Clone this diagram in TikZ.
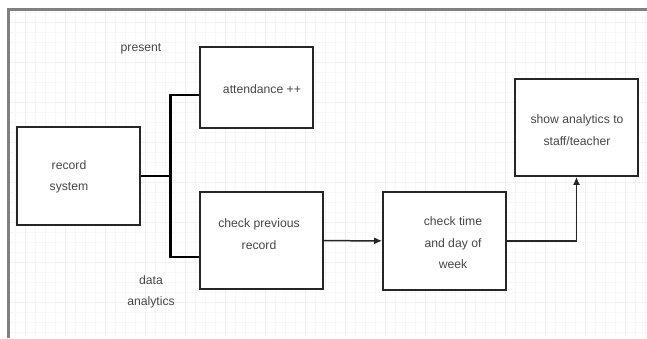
\documentclass[tikz,border=0pt]{standalone}
\usepackage{fontspec}
\setmainfont{Liberation Sans}
\usetikzlibrary{arrows.meta}
\begin{document}
\begin{tikzpicture}[x=1pt,y=-1pt,
  box/.style={draw=black!85,line width=1.7pt,fill=white,inner sep=0pt},
  txt/.style={text=black!72,font=\fontsize{12.2}{21.5}\selectfont,align=center,inner sep=0pt},
  tree/.style={draw=black,line width=2.8pt},
  arr/.style={draw=black!85,line width=1.5pt,-{Latex[length=8pt,width=7pt]}},
  frame/.style={draw=black!50,line width=3pt}]
\useasboundingbox (0,0) rectangle (647,338);
\fill[white] (0,0) rectangle (647,338);
% grid
\begin{scope}
\clip (8,10) rectangle (647,338);
\foreach \x in {5,15,...,645} \draw[black!3,line width=0.6pt] (\x,10) -- (\x,338);
\foreach \y in {12,22,...,338} \draw[black!3,line width=0.6pt] (8,\y) -- (647,\y);
\foreach \x in {25,65,...,645} \draw[black!6,line width=0.8pt] (\x,10) -- (\x,338);
\foreach \y in {22,62,...,338} \draw[black!6,line width=0.8pt] (8,\y) -- (647,\y);
\end{scope}
% frame
\draw[frame] (647,9.5) -- (8,9.5) -- (8,338);
% boxes
\node[box,minimum width=123pt,minimum height=98pt] (rec) at (78.5,176) {};
\node[box,minimum width=113pt,minimum height=81pt] (att) at (256.5,87.5) {};
\node[box,minimum width=123pt,minimum height=97pt] (chk) at (261.5,240.5) {};
\node[box,minimum width=123pt,minimum height=98pt] (tim) at (444.5,241) {};
\node[box,minimum width=123pt,minimum height=97pt] (show) at (576.5,127.5) {};
% texts
\node[txt] (recT) at (69,177) {record\\system};
\node[txt] (attT) at (262,89) {attendance ++};
\node[txt] (chkT) at (259,234) {check previous\\record};
\node[txt] (timT) at (453,243) {check time\\and day of\\week};
\node[txt] (showT) at (577,130) {show analytics to\\staff/teacher};
\node[txt] (present) at (141,49) {present};
\node[txt] (data) at (151,292) {data\\analytics};
% connectors
\draw[tree] (rec.east) -- ++(30,0) coordinate (j);
\draw[tree] ([yshift=-7.5pt]att.west) -| (j) |- ([yshift=-16.5pt]chk.west);
\draw[arr] (chk) -- (tim);
\draw[arr] (tim.east) -| (show.south);
\end{tikzpicture}
\end{document}
